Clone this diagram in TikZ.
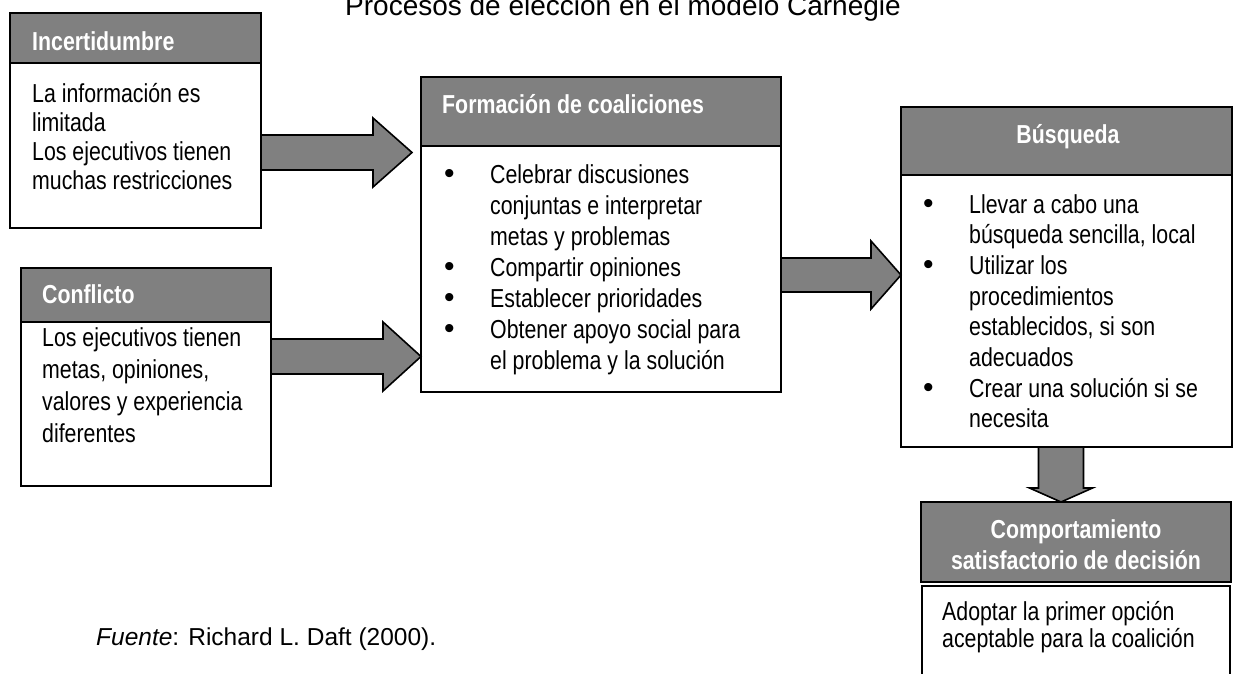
\documentclass[tikz,border=0pt]{standalone}
\usepackage{fontspec}
\setmainfont{Liberation Sans}
\newfontfamily\narrowfont[FakeStretch=0.82]{Liberation Sans}
\newfontfamily\dotfont{Liberation Sans}
\usetikzlibrary{calc}
\definecolor{headgray}{RGB}{128,128,128}

% bullet and hanging indent for list lines
\newcommand\bul{\makebox[46pt][l]{\dotfont\fontsize{30}{30}\selectfont •}}
\newcommand\ind{\makebox[46pt]{}}

% horizontal block arrow: start, tip, shaft half-width, head half-width, head length
\newcommand\rblock[5]{%
  \draw[blockarrow] let \p1=(#1), \p2=(#2) in
    (\x1,\y2+#3) -- (\x2-#5,\y2+#3) -- (\x2-#5,\y2+#4) -- (\x2,\y2)
    -- (\x2-#5,\y2-#4) -- (\x2-#5,\y2-#3) -- (\x1,\y2-#3) -- cycle;}
% downward block arrow: start, tip, shaft half-width, head half-width, head length
\newcommand\dblock[5]{%
  \draw[blockarrow] let \p1=(#1), \p2=(#2) in
    (\x2-#3,\y1) -- (\x2-#3,\y2+#5) -- (\x2-#4,\y2+#5) -- (\x2,\y2)
    -- (\x2+#4,\y2+#5) -- (\x2+#3,\y2+#5) -- (\x2+#3,\y1) -- cycle;}

\begin{document}
\begin{tikzpicture}[x=1pt,y=-1pt,
  box/.style={draw=black, line width=1.6pt, fill=white, inner sep=0pt, outer sep=0pt, anchor=north west},
  headbox/.style={box, fill=headgray},
  headtext/.style={font=\narrowfont\bfseries\fontsize{26}{31}\selectfont, text=white, inner sep=0pt},
  bodytext/.style={font=\narrowfont, inner sep=0pt, anchor=base west},
  plaintext/.style={font=\fontsize{24.5}{29}\selectfont, inner sep=0pt, anchor=base west},
  blockarrow/.style={draw=black, line width=1.6pt, fill=headgray, line join=miter}]

\clip (0,0) rectangle (1238,673);

% title
\node[plaintext, font=\fontsize{28}{32}\selectfont] (title) at (345,15) {Procesos de elección en el modelo Carnegie};

% Incertidumbre
\node[headbox, minimum width=251pt, minimum height=50pt] (incH) at (10,13) {};
\node[box, minimum width=251pt, minimum height=165pt] (incB) at (incH.south west) {};
\node[headtext, anchor=base west] (incHT) at (32,50) {Incertidumbre};
\node[bodytext] (incT) at (32,102) {\parbox[t]{225pt}{\fontsize{26}{29}\selectfont
  La información es\\limitada\\Los ejecutivos tienen\\muchas restricciones}};

% Conflicto
\node[headbox, minimum width=250pt, minimum height=54pt] (conH) at (21,268) {};
\node[box, minimum width=250pt, minimum height=164pt] (conB) at (conH.south west) {};
\node[headtext, anchor=base west] (conHT) at (42,303) {Conflicto};
\node[bodytext] (conT) at (42,346) {\parbox[t]{225pt}{\fontsize{26}{32}\selectfont
  Los ejecutivos tienen\\metas, opiniones,\\valores y experiencia\\diferentes}};

% Formación de coaliciones
\node[headbox, minimum width=360pt, minimum height=69pt] (formH) at (421,77) {};
\node[box, minimum width=360pt, minimum height=246pt] (formB) at (formH.south west) {};
\node[headtext, anchor=base west] (formHT) at (442,113) {Formación de coaliciones};
\node[bodytext] (formT) at (444,183) {\parbox[t]{330pt}{\fontsize{26}{31}\selectfont
  \bul Celebrar discusiones\\
  \ind conjuntas e interpretar\\
  \ind metas y problemas\\
  \bul Compartir opiniones\\
  \bul Establecer prioridades\\
  \bul Obtener apoyo social para\\
  \ind el problema y la solución}};

% Búsqueda
\node[headbox, minimum width=331pt, minimum height=68pt] (busH) at (901,107) {};
\node[box, minimum width=331pt, minimum height=272pt] (busB) at (busH.south west) {};
\node[headtext, anchor=base] (busHT) at (1068,143) {Búsqueda};
\node[bodytext] (busT) at (923,213) {\parbox[t]{305pt}{\fontsize{26}{30.7}\selectfont
  \bul Llevar a cabo una\\
  \ind búsqueda sencilla, local\\
  \bul Utilizar los\\
  \ind procedimientos\\
  \ind establecidos, si son\\
  \ind adecuados\\
  \bul Crear una solución si se\\
  \ind necesita}};

% Comportamiento satisfactorio de decisión
\node[headbox, minimum width=310pt, minimum height=80pt] (compH) at (921,502) {};
\node[box, minimum width=308pt, minimum height=110pt] (compB) at (922,586) {};
\node[headtext, anchor=base] (compHT) at (1076,538) {\parbox[t]{300pt}{\centering\fontsize{26}{31}\selectfont
  Comportamiento\\satisfactorio de decisión}};
\node[bodytext] (compT) at (942,620) {\parbox[t]{280pt}{\fontsize{26}{27}\selectfont
  Adoptar la primer opción\\aceptable para la coalición}};

% source note
\node[plaintext] (fuente) at (96,645) {\textit{Fuente}: Richard L. Daft (2000).};

% block arrows between the stages
\coordinate (a1s) at (incB.east |- 0,152.5);
\coordinate (a1t) at ($(formB.west |- 0,152.5)+(-9,0)$);
\coordinate (a2s) at (conB.east |- 0,356.5);
\coordinate (a2t) at (formB.west |- 0,356.5);
\coordinate (a3s) at (formB.east |- 0,275);
\coordinate (a3t) at (busB.west |- 0,275);
\coordinate (a4s) at (busB.south -| 1061,0);
\coordinate (a4t) at (compH.north -| 1061,0);
\rblock{a1s}{a1t}{17.5pt}{34.5pt}{39pt}
\rblock{a2s}{a2t}{17.5pt}{34.5pt}{38pt}
\rblock{a3s}{a3t}{17pt}{34pt}{30pt}
\dblock{a4s}{a4t}{22.5pt}{31.5pt}{14pt}
\end{tikzpicture}
\end{document}
